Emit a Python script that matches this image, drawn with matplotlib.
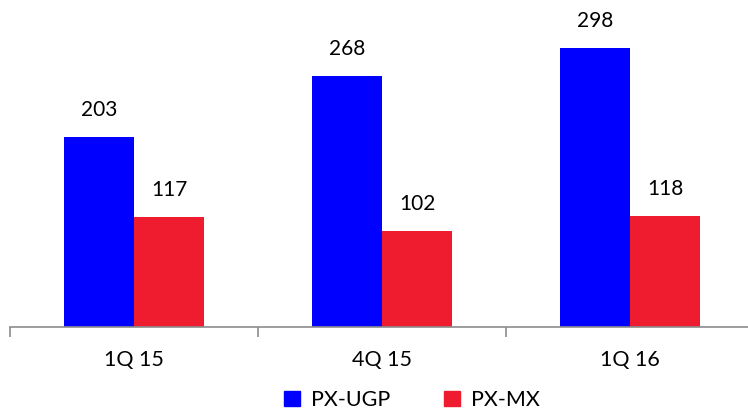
import matplotlib
matplotlib.use("Agg")
import matplotlib.pyplot as plt
import numpy as np
from matplotlib.patches import Patch

categories = ["1Q 15", "4Q 15", "1Q 16"]
ugp = [203, 268, 298]
mx = [117, 102, 118]
series_names = ["PX-UGP", "PX-MX"]
colors = ["#0000FF", "#EE1C2E"]

plt.rcParams['font.family'] = ['Lato', 'DejaVu Sans']

fig = plt.figure(figsize=(7.48, 4.15), dpi=100)
ax = fig.add_axes([10/748, 88/415, 738/748, 327/415])

x = np.arange(len(categories))
w = 0.284
b1 = ax.bar(x - w/2, ugp, w, color=colors[0])
b2 = ax.bar(x + w/2, mx, w, color=colors[1])

for bars, vals in ((b1, ugp), (b2, mx)):
    for r, v in zip(bars, vals):
        ax.annotate(str(v), (r.get_x() + r.get_width()/2, v), xytext=(0, 27),
                    textcoords="offset pixels", ha="center", va="center",
                    fontsize=15, color="black")

ax.set_xlim(-0.5, 2.476)
ax.set_ylim(0, 349)
for s in ["top", "right", "left"]:
    ax.spines[s].set_visible(False)
ax.spines["bottom"].set_color("#8C8C8C")
ax.spines["bottom"].set_linewidth(1.2)
ax.set_yticks([])
ax.set_xticks([-0.5, 0.5, 1.5], minor=False)
ax.set_xticklabels([])
ax.tick_params(axis="x", direction="out", length=7, width=1.2, color="#8C8C8C")
for i, c in enumerate(categories):
    ax.annotate(c, (i, 0), xytext=(0, -33), textcoords="offset pixels",
                ha="center", va="center", fontsize=15.5)

handles = [Patch(color=colors[0]), Patch(color=colors[1])]
fig.legend(handles, series_names, loc="center", bbox_to_anchor=(412/748, 1 - 400/415),
           ncol=2, frameon=False, fontsize=15.5, handlelength=0.75, handleheight=0.75,
           handletextpad=0.5, columnspacing=2.5)

fig.savefig("out.png", dpi=100)
